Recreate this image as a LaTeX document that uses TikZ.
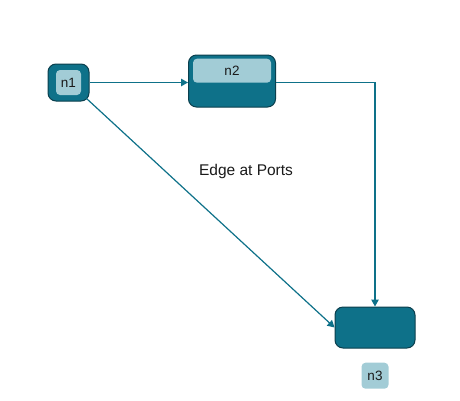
\documentclass[tikz,border=0pt]{standalone}
\usepackage{fontspec}
\setmainfont{Liberation Sans}
\usetikzlibrary{arrows.meta,positioning}
\definecolor{boxteal}{HTML}{0E7189}
\definecolor{tealdark}{HTML}{0B3F4D}
\definecolor{teallight}{HTML}{A2CCD6}
\definecolor{ink}{HTML}{1A1A1A}
\tikzset{
  >={Triangle[length=7pt,width=7.5pt]},
  every node/.style={font=\fontsize{13.5}{16}\selectfont,text=ink},
  nodebox/.style={draw=tealdark,line width=1pt,rounded corners=8pt,fill=boxteal,inner sep=0pt},
  tag/.style={fill=teallight,rounded corners=4pt,inner sep=0pt,align=center},
  conn/.style={->,line width=1.2pt,draw=boxteal},
  edgelabel/.style={font=\fontsize{15.5}{18}\selectfont},
}
\begin{document}
\begin{tikzpicture}[x=1pt,y=-1pt]
\useasboundingbox (0,0) rectangle (460,400);

\node[nodebox,minimum width=41pt,minimum height=37pt] (n1) at (68.5,82.5) {};
\node[tag,minimum width=25pt,minimum height=25pt] (n1tag) at (n1.center) {n1};

\node[nodebox,minimum width=87pt,minimum height=52pt] (n2) at (232,81) {};
\node[tag,minimum width=78pt,minimum height=24pt,below=4pt of n2.north] (n2tag) {n2};

\node[nodebox,minimum width=80pt,minimum height=41pt] (n3) at (375,327.5) {};
\node[tag,minimum width=27pt,minimum height=26pt,below=14pt of n3.south] (n3tag) {n3};

\draw[conn] (n1.east) -- (n1.east -| n2.west);
\draw[conn] (n1.east -| n2.east) -| (n3.north);
\draw[conn] ([shift={(-3pt,3pt)}]n1.south east) -- (n3.west);

\node[edgelabel] (lbl) at (246,171) {Edge at Ports};

\end{tikzpicture}
\end{document}
